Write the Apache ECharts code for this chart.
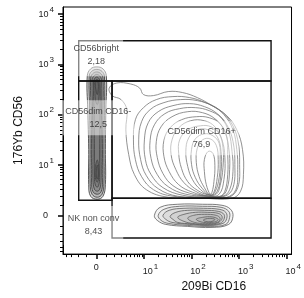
<!DOCTYPE html>
<html>
<head>
<meta charset="utf-8">
<script src="https://cdn.jsdelivr.net/npm/echarts@6/dist/echarts.min.js"></script>
<style>
  html, body { margin: 0; padding: 0; background: #fff; }
  #chart { width: 304px; height: 298px; }
</style>
</head>
<body>
<div id="chart"></div>
<script>
// everything is in display units: 0 = zero, 1 = 10^1, 2 = 10^2 ...
const decadeTicks = [0, 1, 2, 3, 4];
const logMinors = [2, 3, 4, 5, 6, 7, 8, 9];
const linearMinors = [-5, -4, -3, -2, -1, 1, 2, 3, 4, 5, 6, 7, 8, 9];

// gates
const gateBright = [[-0.37, 3.47], [3.67, 3.47], [3.67, 2.67], [-0.37, 2.67]];
const gateDimNeg = [[-0.37, 2.67], [0.33, 2.67], [0.33, 0.30], [-0.37, 0.30]];
const gateDimPos = [[0.33, 2.67], [3.67, 2.67], [3.67, 0.34], [0.33, 0.34]];
const gateNonConv = [[0.33, 0.34], [3.67, 0.34], [3.67, -0.45], [0.33, -0.45]];

const gateNames = ['CD56bright', 'CD56dim CD16-', 'CD56dim CD16+', 'NK non conv'];
const gatePercents = ['2,18', '12,5', '76,9', '8,43'];
const labelSpots = [[0.0, 3.18], [0.04, 1.94], [2.21, 1.53], [-0.06, -0.20]];
const labelPads = [[3, 4, 13, 4], [4, 3, 5, 3], [4, 3, 4, 3], [4, 4, 9, 4]];

// contour rings
const columnRings = [
    [[0.01, 2.95], [0.14, 2.91], [0.21, 2.77], [0.20, 2.10], [0.19, 1.31], [0.19, 0.61], [0.14, 0.38], [0.02, 0.32], [-0.12, 0.38], [-0.16, 0.61], [-0.16, 1.31], [-0.18, 2.10], [-0.19, 2.77], [-0.12, 2.91]],
    [[0.01, 2.90], [0.12, 2.86], [0.17, 2.76], [0.17, 2.10], [0.16, 1.31], [0.16, 0.63], [0.12, 0.42], [0.02, 0.36], [-0.09, 0.42], [-0.13, 0.63], [-0.13, 1.31], [-0.14, 2.10], [-0.15, 2.76], [-0.10, 2.86]],
    [[0.01, 2.85], [0.10, 2.81], [0.14, 2.72], [0.14, 2.10], [0.13, 1.31], [0.13, 0.66], [0.10, 0.47], [0.02, 0.42], [-0.07, 0.47], [-0.10, 0.66], [-0.10, 1.31], [-0.11, 2.10], [-0.12, 2.72], [-0.08, 2.81]],
    [[0.01, 2.80], [0.08, 2.76], [0.11, 2.68], [0.11, 2.10], [0.10, 1.31], [0.10, 0.70], [0.07, 0.52], [0.02, 0.48], [-0.04, 0.52], [-0.07, 0.70], [-0.07, 1.31], [-0.08, 2.10], [-0.09, 2.68], [-0.06, 2.76]],
    [[0.01, 2.75], [0.06, 2.71], [0.08, 2.63], [0.08, 2.10], [0.07, 1.31], [0.07, 0.75], [0.05, 0.60], [0.02, 0.56], [-0.02, 0.60], [-0.04, 0.75], [-0.04, 1.31], [-0.05, 2.10], [-0.06, 2.63], [-0.04, 2.71]],
    [[0.01, 2.70], [0.05, 2.66], [0.06, 2.55], [0.05, 2.30], [0.02, 2.20], [-0.02, 2.30], [-0.03, 2.55], [-0.03, 2.66]],
    [[0.01, 2.66], [0.04, 2.62], [0.04, 2.50], [0.02, 2.40], [-0.01, 2.50], [-0.02, 2.62]],
    [[0.02, 1.10], [0.05, 0.95], [0.05, 0.75], [0.02, 0.66], [-0.02, 0.75], [-0.02, 0.95]],
    [[0.02, 1.00], [0.04, 0.90], [0.04, 0.78], [0.02, 0.72], [0.00, 0.78], [0.00, 0.90]]
];

const mainRings = [
    [[2.23, 0.34], [1.51, 0.36], [1.05, 0.51], [0.80, 0.81], [0.68, 1.21], [0.62, 1.70], [0.64, 2.10], [0.52, 2.30], [0.33, 2.38], [0.27, 2.53], [0.43, 2.63], [0.72, 2.61], [0.91, 2.53], [0.99, 2.40], [1.20, 2.38], [1.51, 2.46], [1.81, 2.44], [2.12, 2.34], [2.43, 2.18], [2.74, 1.98], [2.95, 1.70], [3.07, 1.31], [3.09, 0.81], [3.03, 0.48], [2.85, 0.34]],
    [[2.29, 0.36], [1.61, 0.38], [1.20, 0.51], [0.95, 0.77], [0.82, 1.11], [0.78, 1.50], [0.82, 1.90], [0.99, 2.14], [1.26, 2.30], [1.61, 2.36], [1.96, 2.34], [2.29, 2.24], [2.58, 2.10], [2.82, 1.86], [2.97, 1.50], [3.01, 1.01], [2.97, 0.55], [2.78, 0.36]],
    [[2.31, 0.36], [1.71, 0.38], [1.30, 0.53], [1.05, 0.79], [0.93, 1.11], [0.89, 1.50], [0.95, 1.86], [1.13, 2.10], [1.42, 2.24], [1.77, 2.30], [2.12, 2.28], [2.43, 2.18], [2.68, 2.00], [2.87, 1.70], [2.95, 1.31], [2.97, 0.91], [2.93, 0.51], [2.74, 0.36]],
    [[2.33, 0.36], [1.81, 0.40], [1.40, 0.55], [1.15, 0.81], [1.03, 1.11], [1.01, 1.50], [1.09, 1.84], [1.30, 2.06], [1.61, 2.18], [1.96, 2.22], [2.27, 2.16], [2.54, 2.02], [2.74, 1.80], [2.87, 1.47], [2.91, 1.01], [2.87, 0.55], [2.70, 0.38]],
    [[2.33, 0.38], [1.88, 0.42], [1.51, 0.57], [1.28, 0.81], [1.15, 1.13], [1.13, 1.49], [1.22, 1.80], [1.44, 2.02], [1.75, 2.12], [2.08, 2.14], [2.37, 2.08], [2.62, 1.94], [2.78, 1.66], [2.85, 1.27], [2.87, 0.87], [2.80, 0.51], [2.66, 0.38]],
    [[2.35, 0.38], [1.96, 0.44], [1.61, 0.59], [1.40, 0.83], [1.28, 1.15], [1.26, 1.47], [1.36, 1.76], [1.59, 1.96], [1.92, 2.06], [2.23, 2.04], [2.49, 1.92], [2.68, 1.70], [2.78, 1.35], [2.80, 0.91], [2.74, 0.51], [2.62, 0.38]],
    [[2.35, 0.38], [2.02, 0.46], [1.73, 0.61], [1.53, 0.87], [1.42, 1.17], [1.42, 1.49], [1.55, 1.74], [1.79, 1.90], [2.10, 1.96], [2.37, 1.94], [2.60, 1.82], [2.74, 1.56], [2.76, 1.21], [2.76, 0.81], [2.70, 0.48], [2.60, 0.38]],
    [[2.37, 0.38], [2.08, 0.48], [1.84, 0.65], [1.67, 0.91], [1.57, 1.21], [1.59, 1.50], [1.73, 1.74], [1.98, 1.88], [2.27, 1.88], [2.49, 1.76], [2.64, 1.50], [2.70, 1.15], [2.68, 0.71], [2.58, 0.42]],
    [[2.37, 0.40], [2.12, 0.50], [1.92, 0.67], [1.79, 0.93], [1.73, 1.23], [1.75, 1.50], [1.92, 1.70], [2.19, 1.78], [2.41, 1.76], [2.58, 1.62], [2.66, 1.35], [2.66, 0.95], [2.60, 0.59], [2.52, 0.42]],
    [[2.39, 0.40], [2.19, 0.51], [2.02, 0.71], [1.92, 0.97], [1.88, 1.27], [1.94, 1.54], [2.12, 1.70], [2.35, 1.70], [2.54, 1.56], [2.62, 1.27], [2.62, 0.87], [2.54, 0.48]],
    [[2.39, 0.40], [2.23, 0.53], [2.08, 0.75], [2.00, 1.01], [2.00, 1.31], [2.08, 1.52], [2.27, 1.62], [2.45, 1.58], [2.58, 1.43], [2.60, 1.11], [2.58, 0.75], [2.49, 0.46]],
    [[2.39, 0.40], [2.27, 0.55], [2.16, 0.77], [2.10, 1.05], [2.12, 1.33], [2.23, 1.50], [2.39, 1.52], [2.52, 1.39], [2.56, 1.11], [2.54, 0.75], [2.47, 0.46]],
    [[2.39, 0.42], [2.31, 0.61], [2.27, 0.87], [2.27, 1.11], [2.35, 1.27], [2.45, 1.23], [2.49, 0.99], [2.47, 0.67], [2.43, 0.46]]
];

const lowRings = [
    [[1.22, 0], [1.34, 0.16], [1.71, 0.22], [2.23, 0.22], [2.64, 0.20], [2.82, 0.12], [2.87, -0.02], [2.78, -0.18], [2.43, -0.24], [1.92, -0.22], [1.46, -0.18], [1.28, -0.10]],
    [[1.30, 0], [1.42, 0.12], [1.75, 0.18], [2.23, 0.18], [2.62, 0.16], [2.78, 0.08], [2.80, -0.04], [2.72, -0.18], [2.39, -0.22], [1.92, -0.20], [1.51, -0.16], [1.36, -0.10]],
    [[1.40, 0], [1.53, 0.10], [1.84, 0.14], [2.25, 0.14], [2.58, 0.12], [2.72, 0.06], [2.74, -0.06], [2.66, -0.16], [2.37, -0.20], [1.96, -0.18], [1.59, -0.14], [1.46, -0.08]],
    [[1.55, -0.02], [1.67, 0.06], [1.92, 0.10], [2.27, 0.10], [2.56, 0.08], [2.68, 0.02], [2.68, -0.08], [2.60, -0.16], [2.33, -0.19], [2.00, -0.17], [1.71, -0.14], [1.61, -0.08]],
    [[1.71, -0.04], [1.84, 0.02], [2.08, 0.06], [2.33, 0.06], [2.56, 0.04], [2.64, -0.02], [2.62, -0.10], [2.52, -0.16], [2.27, -0.18], [2.02, -0.16], [1.84, -0.12]],
    [[1.92, -0.06], [2.04, 0], [2.27, 0.02], [2.52, 0], [2.60, -0.06], [2.54, -0.14], [2.29, -0.16], [2.06, -0.14]],
    [[2.10, -0.08], [2.23, -0.04], [2.43, -0.03], [2.56, -0.08], [2.49, -0.13], [2.25, -0.14]],
    [[2.25, -0.09], [2.37, -0.06], [2.49, -0.08], [2.43, -0.12], [2.29, -0.12]]
];

const biex = (v) => Math.asinh(v / 2) / Math.LN10;

const minorTicks = () => {
    const ticks = linearMinors.map(biex);
    [1, 2, 3].forEach((k) => logMinors.forEach((m) => ticks.push(k + Math.log10(m))));
    return ticks;
};

const font = 'Liberation Sans';

const xTickLabel = (v) => (v === 0 ? '{z|0}' : '{b|10}{s|' + v + '}');
const yTickLabel = (v) => (v === 0 ? '{z|0}{gap|}' : '{z|10}{s|' + v + '}');

const tickRich = {
    z: { fontSize: 9, fontFamily: font, color: '#222' },
    b: { fontSize: 9, fontFamily: font, color: '#222', padding: [0, 0, 0, 13] },
    s: { fontSize: 8, fontFamily: font, color: '#222', padding: [0, 0, 9, 1] },
    gap: { width: 6 }
};

const makeAxes = (dim, min, max) => {
    const isX = dim === 'x';
    const major = {
        type: 'value', min, max,
        position: isX ? 'bottom' : 'left',
        splitLine: { show: false },
        axisLine: { show: true, onZero: false, lineStyle: { color: '#000', width: 1 } },
        axisTick: { show: true, length: 5, customValues: decadeTicks, lineStyle: { color: '#000', width: 1.5 } },
        axisLabel: {
            customValues: decadeTicks,
            margin: 9,
            formatter: isX ? xTickLabel : yTickLabel,
            rich: tickRich
        }
    };
    const minor = {
        type: 'value', min, max,
        position: isX ? 'bottom' : 'left',
        splitLine: { show: false },
        axisLine: { show: false, onZero: false },
        axisTick: { show: true, length: 3, customValues: minorTicks(), lineStyle: { color: '#000', width: 1 } },
        axisLabel: { show: false }
    };
    return [major, minor];
};

const ringSeries = (rings, stroke, fill, width) => ({
    type: 'custom',
    coordinateSystem: 'cartesian2d',
    silent: true,
    z: 2,
    clip: true,
    data: rings.map((r) => r[0]),
    renderItem: (params, api) => ({
        type: 'polygon',
        shape: { points: rings[params.dataIndex].map((p) => api.coord(p)), smooth: 0.4 },
        style: { fill: fill, stroke: stroke, lineWidth: width }
    })
});

const gateSeries = (gates) => ({
    type: 'custom',
    coordinateSystem: 'cartesian2d',
    silent: true,
    z: 3,
    data: gates.map((g) => g[0]),
    renderItem: (params, api) => ({
        type: 'polygon',
        shape: { points: gates[params.dataIndex].map((p) => api.coord(p)) },
        style: { fill: 'none', stroke: '#111', lineWidth: 1.4 }
    })
});

const labelData = () => gateNames.map((name, i) => ({
    name: name + '\n' + gatePercents[i],
    value: labelSpots[i],
    label: { padding: labelPads[i] }
}));

const chartOpt = () => {
    const [xMajor, xMinor] = makeAxes('x', -0.70, 4.10);
    const [yMajor, yMinor] = makeAxes('y', -0.77, 4.14);
    xMajor.name = '209Bi CD16';
    xMajor.nameLocation = 'middle';
    xMajor.nameGap = 24;
    xMajor.nameTextStyle = { fontSize: 12, fontFamily: font, color: '#111', padding: [0, 0, 0, 73] };
    yMajor.name = '176Yb CD56';
    yMajor.nameLocation = 'middle';
    yMajor.nameGap = 38;
    yMajor.nameTextStyle = { fontSize: 12, fontFamily: font, color: '#111' };
    return {
        animation: false,
        backgroundColor: '#fff',
        grid: { left: 63, right: 8, top: 7, bottom: 43, show: true, borderColor: '#000', borderWidth: 1 },
        xAxis: [xMajor, xMinor],
        yAxis: [yMajor, yMinor],
        series: [
            ringSeries(columnRings, '#444', 'rgba(60,60,60,0.2)', 0.9),
            ringSeries(mainRings, '#6e6e6e', 'none', 0.75),
            ringSeries(lowRings, '#5e5e5e', 'rgba(80,80,80,0.07)', 0.8),
            gateSeries([gateBright, gateDimNeg, gateDimPos, gateNonConv]),
            {
                type: 'scatter',
                z: 5,
                silent: true,
                symbolSize: 1,
                itemStyle: { color: 'rgba(0,0,0,0)' },
                data: labelData(),
                label: {
                    show: true,
                    position: 'inside',
                    formatter: (p) => p.name,
                    fontSize: 9,
                    fontFamily: font,
                    color: '#222',
                    lineHeight: 13,
                    align: 'center',
                    backgroundColor: 'rgba(255,255,255,0.62)'
                }
            }
        ]
    };
};

const chart = echarts.init(document.getElementById('chart'), null, { renderer: 'canvas' });
chart.setOption(chartOpt());
</script>
</body>
</html>
